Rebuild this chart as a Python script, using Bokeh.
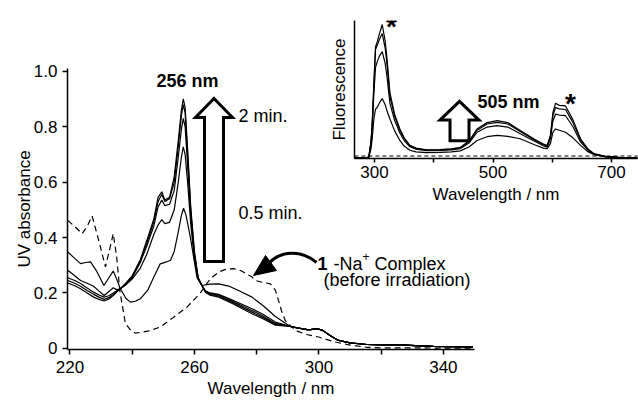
from bokeh.plotting import figure
from bokeh.layouts import column
from bokeh.models import Range1d, FixedTicker, Label
from bokeh.embed import file_html
from bokeh.resources import INLINE

FONT = "Liberation Sans"

# ---------------- main UV-absorbance data ----------------
# before irradiation (dashed)
wl_before = [219.3, 221.5, 223.9, 225.5, 227.1, 229.0, 231.4, 232.8, 233.9, 235.0, 236.0, 237.8,
             239.5, 241.0, 245.0, 249.0, 253.0, 257.6, 261.7, 265.0, 267.8, 270.0, 272.6, 275.0,
             278.5, 279.6, 282.0, 284.4, 286.0, 287.0, 288.0, 289.2, 292.4, 296.0, 299.9, 305.2,
             310.0, 315.4, 320.0, 330.0, 340.0, 349.5]
abs_before = [0.462, 0.44, 0.414, 0.44, 0.478, 0.40, 0.294, 0.36, 0.414, 0.33, 0.21, 0.09,
              0.065, 0.055, 0.062, 0.077, 0.11, 0.149, 0.197, 0.25, 0.276, 0.285, 0.288, 0.28,
              0.258, 0.245, 0.238, 0.233, 0.21, 0.173, 0.135, 0.10, 0.065, 0.05, 0.041, 0.023,
              0.012, 0.004, 0.002, 0.002, 0.001, 0.001]

# common long-wavelength tail of irradiated spectra
wl_tail = [293.5, 296.7, 299.5, 301.0, 304.2, 306.0, 310.0, 315.4, 320.0, 326.0, 331.0, 336.8, 343.0, 349.5]
abs_tail = [0.073, 0.067, 0.071, 0.066, 0.042, 0.030, 0.020, 0.014, 0.013, 0.013, 0.010, 0.007, 0.006, 0.005]

# 0.5 min
wl_a = [219.3, 221.5, 223.4, 225.0, 226.6, 228.5, 230.9, 232.5, 233.9, 235.0, 236.2, 238.0, 239.4,
        241.0, 242.6, 245.0, 246.9, 249.0, 251.0, 252.3, 253.5, 254.9, 255.8, 256.5, 257.3, 258.7,
        260.8, 262.4, 265.0, 267.8, 271.0, 274.0, 278.5, 282.0, 286.0, 290.8]
abs_a = [0.348, 0.325, 0.306, 0.31, 0.312, 0.28, 0.227, 0.255, 0.279, 0.25, 0.215, 0.18, 0.167,
         0.17, 0.179, 0.21, 0.257, 0.305, 0.312, 0.318, 0.35, 0.426, 0.48, 0.506, 0.48, 0.40,
         0.257, 0.227, 0.232, 0.233, 0.225, 0.21, 0.185, 0.155, 0.115, 0.079]

# later irradiation times share one wavelength grid
wl_b = [219.3, 221.5, 223.4, 225.5, 227.6, 229.5, 231.0, 232.5, 233.9, 235.0, 236.2, 238.0, 240.0,
        242.6, 244.7, 246.9, 248.3, 249.5, 250.5, 252.0, 253.5, 254.8, 255.8, 256.4, 257.0, 257.8,
        258.8, 260.0, 261.2, 262.4, 263.5, 265.0, 267.8, 272.0, 278.5, 282.0, 286.0, 290.8]
abs_b = [0.282, 0.262, 0.245, 0.235, 0.224, 0.205, 0.191, 0.205, 0.219, 0.212, 0.215, 0.23, 0.25,
         0.29, 0.34, 0.41, 0.445, 0.465, 0.45, 0.455, 0.50, 0.60, 0.69, 0.727, 0.70, 0.60,
         0.45, 0.32, 0.25, 0.227, 0.208, 0.20, 0.195, 0.175, 0.143, 0.123, 0.095, 0.079]
abs_c = [0.255, 0.245, 0.234, 0.218, 0.203, 0.192, 0.185, 0.19, 0.20, 0.208, 0.215, 0.232, 0.255,
         0.31, 0.37, 0.44, 0.51, 0.535, 0.515, 0.52, 0.57, 0.69, 0.79, 0.83, 0.80, 0.66,
         0.48, 0.33, 0.25, 0.227, 0.207, 0.198, 0.192, 0.171, 0.137, 0.117, 0.09, 0.079]
abs_d = [0.245, 0.235, 0.224, 0.209, 0.195, 0.184, 0.177, 0.183, 0.195, 0.205, 0.215, 0.234, 0.26,
         0.315, 0.38, 0.455, 0.53, 0.555, 0.53, 0.54, 0.60, 0.73, 0.84, 0.88, 0.85, 0.70,
         0.50, 0.34, 0.255, 0.227, 0.205, 0.195, 0.189, 0.167, 0.131, 0.112, 0.087, 0.079]
abs_e = [0.236, 0.226, 0.215, 0.20, 0.185, 0.176, 0.171, 0.178, 0.191, 0.203, 0.215, 0.236, 0.262,
         0.32, 0.39, 0.465, 0.545, 0.565, 0.535, 0.545, 0.62, 0.75, 0.86, 0.90, 0.87, 0.72,
         0.51, 0.35, 0.255, 0.227, 0.203, 0.192, 0.185, 0.163, 0.125, 0.107, 0.084, 0.079]

x_ticks = [220, 240, 260, 280, 300, 320, 340]
x_labels = {220: "220", 240: "", 260: "260", 280: "", 300: "300", 320: "", 340: "340"}
y_ticks = [0, 0.2, 0.4, 0.6, 0.8, 1.0]
y_labels = {0: "0", 0.2: "0.2", 0.4: "0.4", 0.6: "0.6", 0.8: "0.8", 1.0: "1.0"}

# ---------------- inset fluorescence data ----------------
wl_f = [266, 285, 290.4, 294, 296, 299, 301.7, 304.5, 308, 313, 318, 321.4, 326, 334, 342.8, 350,
        359.7, 370, 387.8, 410, 430, 445, 460, 473, 490, 507, 525, 546, 570, 585, 591.5, 597,
        601, 605.5, 612, 622.4, 635, 647.7, 660, 670, 690, 715, 745]
fl_1 = [0.005, 0.005, 0.01, 0.12, 0.24, 0.55, 0.81, 0.845, 0.90, 0.971, 0.85, 0.71, 0.476, 0.32,
        0.214, 0.15, 0.095, 0.075, 0.062, 0.065, 0.07, 0.08, 0.13, 0.214, 0.26, 0.274, 0.26,
        0.202, 0.14, 0.105, 0.095, 0.17, 0.33, 0.40, 0.385, 0.381, 0.28, 0.143, 0.07, 0.036,
        0.015, 0.007, 0.003]
fl_2 = [0.005, 0.005, 0.01, 0.12, 0.24, 0.54, 0.79, 0.82, 0.86, 0.905, 0.80, 0.67, 0.45, 0.305,
        0.205, 0.145, 0.092, 0.073, 0.06, 0.063, 0.068, 0.078, 0.125, 0.205, 0.25, 0.262, 0.25,
        0.195, 0.135, 0.10, 0.09, 0.16, 0.31, 0.369, 0.36, 0.355, 0.26, 0.135, 0.066, 0.034,
        0.014, 0.007, 0.003]
fl_3 = [0.005, 0.005, 0.01, 0.11, 0.22, 0.48, 0.66, 0.70, 0.74, 0.774, 0.69, 0.58, 0.40, 0.275,
        0.185, 0.13, 0.085, 0.068, 0.056, 0.058, 0.062, 0.072, 0.115, 0.19, 0.228, 0.238, 0.228,
        0.18, 0.125, 0.092, 0.083, 0.145, 0.27, 0.321, 0.315, 0.31, 0.23, 0.12, 0.06, 0.03,
        0.013, 0.006, 0.003]
fl_4 = [0.005, 0.005, 0.01, 0.07, 0.14, 0.29, 0.357, 0.37, 0.40, 0.434, 0.39, 0.34, 0.286, 0.20,
        0.131, 0.09, 0.06, 0.048, 0.042, 0.045, 0.048, 0.055, 0.085, 0.13, 0.158, 0.167, 0.16,
        0.143, 0.10, 0.075, 0.071, 0.11, 0.19, 0.214, 0.205, 0.19, 0.15, 0.095, 0.05, 0.03,
        0.012, 0.006, 0.003]
wl_f0 = [266, 745]
fl_0 = [0.018, 0.018]

fx_ticks = [300, 400, 500, 600, 700]
fx_labels = {300: "300", 400: "", 500: "500", 600: "", 700: "700"}

# ---------------- geometry (page pixels; Bokeh page has no body margin) ----------------
M_LEFT, M_RIGHT, M_TOP, M_BOTTOM = 67.0, 474.0, 68.0, 349.0
MX0, MX1, MY0, MY1 = 219.2, 350.0, -0.004, 1.01
I_LEFT, I_RIGHT, I_TOP, I_BOTTOM = 354.0, 637.0, 20.0, 160.0
IX0, IX1, IY0, IY1 = 266.2, 743.9, 0.0, 1.0
INSET_X = 287          # inset figure left edge (its left border is aligned to the main one: 67)


def main_xy(px, py):
    return (MX0 + (px - M_LEFT) * (MX1 - MX0) / (M_RIGHT - M_LEFT),
            MY0 + (M_BOTTOM - py) * (MY1 - MY0) / (M_BOTTOM - M_TOP))


def inset_xy(px, py):
    return (IX0 + (px - I_LEFT) * (IX1 - IX0) / (I_RIGHT - I_LEFT),
            IY0 + (I_BOTTOM - py) * (IY1 - IY0) / (I_BOTTOM - I_TOP))


def style_axis(ax, size="17px"):
    ax.axis_line_width = 1.5
    ax.axis_line_color = "black"
    ax.major_tick_line_width = 1.5
    ax.major_tick_line_color = "black"
    ax.major_tick_out = 5
    ax.major_tick_in = 0
    ax.minor_tick_line_color = None
    ax.major_label_text_font = FONT
    ax.major_label_text_font_size = size
    ax.major_label_text_color = "black"
    ax.axis_label_text_font = FONT
    ax.axis_label_text_font_size = "17px"
    ax.axis_label_text_font_style = "normal"
    ax.axis_label_text_color = "black"


def add_label(fig, conv, px, py, text, size="18px", bold=False, align="left", baseline="middle"):
    x, y = conv(px, py)
    fig.add_layout(Label(x=x, y=y, text=text, text_font=FONT, text_font_size=size,
                         text_font_style="bold" if bold else "normal", text_color="black",
                         text_align=align, text_baseline=baseline))


def block_arrow(fig, conv, cx, tip_y, head_y, bottom_y, head_half, shaft_half):
    pts = [(cx, tip_y), (cx + head_half, head_y), (cx + shaft_half, head_y),
           (cx + shaft_half, bottom_y), (cx - shaft_half, bottom_y),
           (cx - shaft_half, head_y), (cx - head_half, head_y)]
    xy = [conv(a, b) for a, b in pts]
    fig.patch([q[0] for q in xy], [q[1] for q in xy], fill_color="white",
              line_color="black", line_width=3, line_join="miter")


# ---------------- main figure ----------------
p = figure(width=475, height=403, x_range=Range1d(MX0, MX1), y_range=Range1d(MY0, MY1),
           output_backend="svg", toolbar_location=None,
           min_border_left=67, min_border_right=1, min_border_top=68, min_border_bottom=54)
p.outline_line_color = None
p.xgrid.visible = False
p.ygrid.visible = False
p.xaxis.axis_label = "Wavelength / nm"
p.yaxis.axis_label = "UV absorbance"
style_axis(p.xaxis[0])
style_axis(p.yaxis[0])
p.xaxis.ticker = FixedTicker(ticks=x_ticks)
p.xaxis.major_label_overrides = x_labels
p.yaxis.ticker = FixedTicker(ticks=y_ticks)
p.yaxis.major_label_overrides = y_labels
p.xaxis.major_label_standoff = 6
p.xaxis.axis_label_standoff = 3
p.yaxis.major_label_standoff = 5
p.yaxis.axis_label_standoff = -3

p.line(wl_before, abs_before, line_color="black", line_width=1.2, line_dash="6 4")
for wl, ab in [(wl_a, abs_a), (wl_b, abs_b), (wl_b, abs_c), (wl_b, abs_d), (wl_b, abs_e)]:
    p.line(wl + wl_tail, ab + abs_tail, line_color="black", line_width=1.2)

block_arrow(p, main_xy, 213.5, 98, 117, 261, 18.5, 9.5)
add_label(p, main_xy, 187, 80, "256 nm", bold=True, align="center")
add_label(p, main_xy, 238, 115, "2 min.")
add_label(p, main_xy, 238, 212, "0.5 min.")

# curved arrow toward the dashed spectrum
b0 = main_xy(316, 262)
b1 = main_xy(268, 263)
c0 = main_xy(302, 250)
c1 = main_xy(281, 249)
p.bezier(x0=[b0[0]], y0=[b0[1]], x1=[b1[0]], y1=[b1[1]], cx0=[c0[0]], cy0=[c0[1]],
         cx1=[c1[0]], cy1=[c1[1]], line_color="black", line_width=3)
head = [main_xy(253, 275), main_xy(276, 270), main_xy(265, 255)]
p.patch([h[0] for h in head], [h[1] for h in head], fill_color="black", line_color="black")

add_label(p, main_xy, 317, 263, "1", bold=True)
add_label(p, main_xy, 333, 263, "-Na")
add_label(p, main_xy, 362, 256, "+", size="12px")
add_label(p, main_xy, 374, 263, "Complex")
add_label(p, main_xy, 323, 279, "(before irradiation)")

# ---------------- inset figure ----------------
q = figure(width=351, height=206, x_range=Range1d(IX0, IX1), y_range=Range1d(IY0, IY1),
           output_backend="svg", toolbar_location=None,
           min_border_left=67, min_border_right=1, min_border_top=20, min_border_bottom=46,
           background_fill_color=None, border_fill_color=None)
q.outline_line_color = None
q.xgrid.visible = False
q.ygrid.visible = False
q.xaxis.axis_label = "Wavelength / nm"
q.yaxis.axis_label = "Fluorescence"
style_axis(q.xaxis[0])
style_axis(q.yaxis[0])
q.xaxis.ticker = FixedTicker(ticks=fx_ticks)
q.xaxis.major_label_overrides = fx_labels
q.xaxis.major_tick_out = 4
q.xaxis.major_label_standoff = 3
q.xaxis.axis_label_standoff = 4
q.yaxis.ticker = FixedTicker(ticks=[])
q.yaxis.major_tick_out = 0
q.yaxis.major_label_standoff = 0
q.yaxis.axis_label_standoff = 6

q.line(wl_f0, fl_0, line_color="black", line_width=1.0, line_dash="4 3")
for fl in [fl_4, fl_3, fl_2, fl_1]:
    q.line(wl_f, fl, line_color="black", line_width=1.2)

block_arrow(q, inset_xy, 459, 102, 121, 142, 19.5, 9.5)
add_label(q, inset_xy, 508, 103, "505 nm", bold=True, align="center")
add_label(q, inset_xy, 391, 26, "*", size="28px", bold=True, align="center")
add_label(q, inset_xy, 570, 104, "*", size="28px", bold=True, align="center")

q.styles = {"position": "absolute", "left": f"{INSET_X}px", "top": "0px"}
layout = column(p, q)
layout.styles = {"position": "relative"}
open("out.html", "w").write(file_html(layout, INLINE))
